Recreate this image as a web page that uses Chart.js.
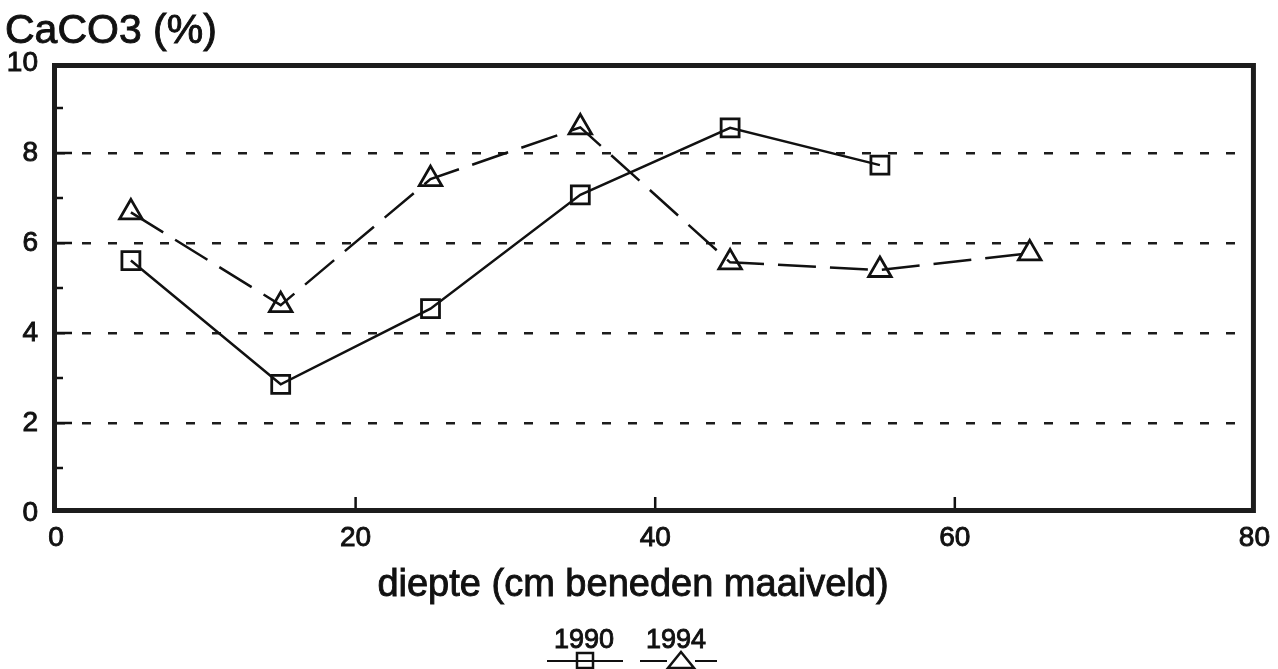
<!DOCTYPE html>
<html>
<head>
<meta charset="utf-8">
<script src="https://cdn.jsdelivr.net/npm/chart.js@4/dist/chart.umd.min.js"></script>
<style>
  html, body { margin: 0; padding: 0; background: #fff; }
  #wrap { width: 1278px; height: 669px; position: relative; }
</style>
</head>
<body>
<div id="wrap"><canvas id="c" width="1278" height="669"></canvas></div>
<script>
// ---- data ----
const depth = [5, 15, 25, 35, 45, 55, 65];
const caco3_1990 = [5.61, 2.86, 4.54, 7.07, 8.56, 7.73];
const caco3_1994 = [6.68, 4.62, 7.42, 8.57, 5.57, 5.40, 5.77];
const seriesNames = ['1990', '1994'];
const yTitle = 'CaCO3 (%)';
const xTitle = 'diepte (cm beneden maaiveld)';
const xMajorTicks = [20, 40, 60];
const yMinorTicks = [1, 3, 5, 7, 9];
const yMajorTicks = [2, 4, 6, 8];

const FONT = '"Liberation Sans", Arial, Helvetica, sans-serif';
const INK = '#111';

function pts(xs, ys) { return ys.map((v, i) => ({ x: xs[i], y: v })); }

function boldText(ctx, text, x, y) {
  ctx.fillText(text, x, y);
  ctx.strokeText(text, x, y);
}

const decorPlugin = {
  id: 'decor',
  afterDraw(chart) {
    const { ctx, chartArea: a, scales } = chart;
    const xs = scales.x, ys = scales.y;
    ctx.save();
    // inner ticks
    ctx.strokeStyle = INK;
    ctx.lineWidth = 2.5;
    ctx.beginPath();
    yMinorTicks.forEach(v => { const y = ys.getPixelForValue(v); ctx.moveTo(a.left, y); ctx.lineTo(a.left + 7, y); });
    yMajorTicks.forEach(v => { const y = ys.getPixelForValue(v); ctx.moveTo(a.left, y); ctx.lineTo(a.left + 16, y); });
    xMajorTicks.forEach(v => { const x = xs.getPixelForValue(v); ctx.moveTo(x, a.bottom); ctx.lineTo(x, a.bottom - 16); });
    ctx.stroke();
    // frame
    ctx.strokeStyle = '#1c1c1c';
    ctx.lineWidth = 5;
    ctx.strokeRect(a.left - 1.5, a.top + 2.5, a.right - a.left + 0.5, a.bottom - a.top - 5);
    // titles
    ctx.fillStyle = INK;
    ctx.strokeStyle = INK;
    ctx.lineWidth = 0.9;
    ctx.textBaseline = 'alphabetic';
    ctx.textAlign = 'left';
    ctx.font = '41px ' + FONT;
    boldText(ctx, yTitle, 5, 43);
    ctx.textAlign = 'center';
    ctx.font = '38px ' + FONT;
    boldText(ctx, xTitle, 633, 596);
    // legend
    ctx.font = '27px ' + FONT;
    boldText(ctx, seriesNames[0], 584, 648);
    boldText(ctx, seriesNames[1], 676, 648);
    ctx.lineWidth = 2;
    ctx.beginPath();
    ctx.moveTo(547, 661); ctx.lineTo(623, 661);
    ctx.moveTo(640, 661); ctx.lineTo(667, 661);
    ctx.moveTo(695, 661); ctx.lineTo(717, 661);
    ctx.stroke();
    ctx.lineWidth = 2.5;
    ctx.strokeRect(577, 653, 16, 15);
    ctx.beginPath();
    ctx.moveTo(681, 652); ctx.lineTo(694, 668); ctx.lineTo(668, 668); ctx.closePath();
    ctx.stroke();
    ctx.restore();
  }
};

new Chart(document.getElementById('c'), {
  type: 'line',
  data: {
    datasets: [
      {
        label: seriesNames[0],
        data: pts(depth, caco3_1990),
        borderColor: INK,
        borderWidth: 2.5,
        pointStyle: 'rect',
        pointRadius: 12.7,
        pointBorderWidth: 2.8,
        pointBorderColor: INK,
        pointBackgroundColor: 'rgba(0,0,0,0)',
        fill: false,
        tension: 0
      },
      {
        label: seriesNames[1],
        data: pts(depth, caco3_1994),
        borderColor: INK,
        borderWidth: 2.5,
        borderDash: [38, 14],
        pointStyle: 'triangle',
        pointRadius: 13,
        pointBorderWidth: 2.8,
        pointBorderColor: INK,
        pointBackgroundColor: 'rgba(0,0,0,0)',
        fill: false,
        tension: 0
      }
    ]
  },
  options: {
    responsive: false,
    animation: false,
    devicePixelRatio: 1,
    layout: { padding: { left: 0, right: 22, top: 63, bottom: 0 } },
    plugins: { legend: { display: false }, title: { display: false }, tooltip: { enabled: false } },
    scales: {
      x: {
        type: 'linear',
        min: 0, max: 80,
        afterFit(s) { s.height = 156; },
        border: { display: false },
        grid: { display: false, drawTicks: false },
        ticks: { stepSize: 20, padding: 8, color: INK, textStrokeColor: INK, textStrokeWidth: 0.9, font: { family: FONT, size: 28 }, maxRotation: 0 }
      },
      y: {
        type: 'linear',
        min: 0, max: 10,
        afterFit(s) { s.width = 56; },
        border: { display: false, dash: [9, 17] },
        grid: {
          drawTicks: false,
          color: c => (c.tick && yMajorTicks.includes(c.tick.value)) ? '#1c1c1c' : 'rgba(0,0,0,0)',
          lineWidth: 2.5
        },
        ticks: { stepSize: 2, padding: 18, color: INK, textStrokeColor: INK, textStrokeWidth: 0.9, font: { family: FONT, size: 28 } }
      }
    }
  },
  plugins: [decorPlugin]
});
</script>
</body>
</html>
